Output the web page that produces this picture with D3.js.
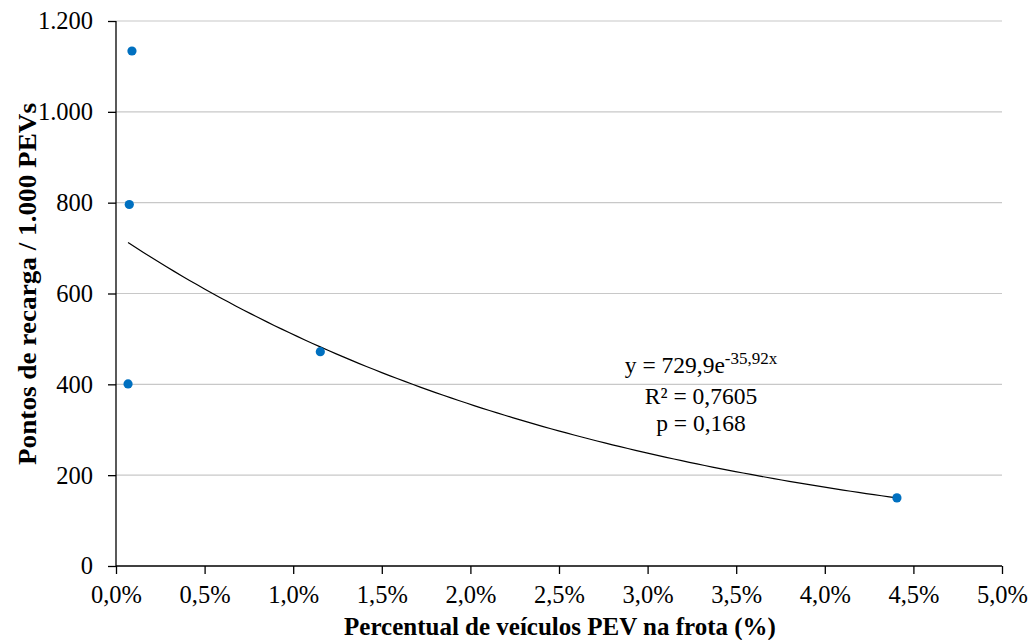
<!DOCTYPE html>
<html>
<head>
<meta charset="utf-8">
<script src="https://cdn.jsdelivr.net/npm/d3@7.9.0/dist/d3.min.js"></script>
<style>
  body { margin: 0; background: #fff; }
  svg { display: block; font-family: "Liberation Serif", "Times New Roman", serif; }
</style>
</head>
<body>
<svg id="chart" width="1032" height="640"></svg>
<script>
// share of PEV in fleet (fraction) and charging points per 1.000 PEVs
const xValues = [0.0009, 0.00075, 0.00068, 0.01153, 0.04407];
const yValues = [1134, 796, 401, 472, 150];
const xTicks = [0, 0.005, 0.01, 0.015, 0.02, 0.025, 0.03, 0.035, 0.04, 0.045, 0.05];
const yTicks = [0, 200, 400, 600, 800, 1000, 1200];
const fitA = 729.9, fitB = -35.92;
const fitLabels = ["R² = 0,7605", "p = 0,168"];

const svg = d3.select('#chart');
const margin = { left: 116, right: 30, top: 21, bottom: 74 };

let x = d3.scaleLinear().domain([0, 0.05]).range([margin.left, 1002]);
let y = d3.scaleLinear().domain([0, 1200]).range([566, margin.top]);

const fmtPct = v => d3.format('.1f')(v * 100).replace('.', ',') + '%';
const fmtNum = v => d3.format(',')(v).replace(/,/g, '.');

// gridlines
svg.append('g')
    .selectAll('line')
    .data(yTicks.filter(d => d > 0))
    .join('line')
    .attr('x1', x(0)).attr('x2', x(0.05))
    .attr('y1', d => y(d)).attr('y2', d => y(d))
    .attr('stroke', '#c8c8c8').attr('stroke-width', 1.2);

// axes
let yAxis = svg.append('g')
    .attr('transform', `translate(${x(0)},0)`)
    .call(d3.axisLeft(y).tickValues(yTicks).tickSize(8).tickPadding(15).tickFormat(fmtNum));
let xAxis = svg.append('g')
    .attr('transform', `translate(0,${y(0)})`)
    .call(d3.axisBottom(x).tickValues(xTicks).tickSize(8).tickPadding(12).tickFormat(fmtPct));

[yAxis, xAxis].forEach(ax => {
    ax.select('.domain').attr('stroke', '#000').attr('stroke-width', 1.3);
    ax.selectAll('.tick line').attr('stroke', '#000').attr('stroke-width', 1.3);
    ax.selectAll('.tick text')
        .attr('fill', '#000')
        .style('font-family', '"Liberation Serif", serif')
        .style('font-size', '24.5px');
});
xAxis.select('.domain').attr('d', `M${x(0)},0H${x(0.05)}`);
yAxis.select('.domain').attr('d', `M0,${y(0)}V${y(1200)}`);

// exponential trend line
let xMin = d3.min(xValues), xMax = d3.max(xValues);
let fitPts = d3.range(0, 101).map(i => {
    let xv = xMin + (xMax - xMin) * i / 100;
    return [xv, fitA * Math.exp(fitB * xv)];
});
svg.append('path')
    .datum(fitPts)
    .attr('fill', 'none')
    .attr('stroke', '#000')
    .attr('stroke-width', 1.2)
    .attr('d', d3.line().x(d => x(d[0])).y(d => y(d[1])));

// points
svg.append('g')
    .selectAll('circle')
    .data(xValues.map((v, i) => [v, yValues[i]]))
    .join('circle')
    .attr('cx', d => x(d[0]))
    .attr('cy', d => y(d[1]))
    .attr('r', 4.6)
    .attr('fill', '#0070c0');

// equation
let eq = svg.append('text')
    .attr('x', 701).attr('y', 373)
    .attr('text-anchor', 'middle')
    .style('font-size', '23.5px');
eq.append('tspan').text('y = 729,9e');
eq.append('tspan').attr('dy', -9).style('font-size', '17px').text('-35,92x');

svg.selectAll('.fitlbl')
    .data(fitLabels)
    .join('text')
    .attr('class', 'fitlbl')
    .attr('x', 701)
    .attr('y', (d, i) => 404 + i * 27)
    .attr('text-anchor', 'middle')
    .style('font-size', '23.5px')
    .text(d => d);

// axis titles
svg.append('text')
    .attr('x', 560).attr('y', 635)
    .attr('text-anchor', 'middle')
    .style('font-size', '25px').style('font-weight', 'bold')
    .text('Percentual de veículos PEV na frota (%)');

svg.append('text')
    .attr('transform', 'translate(36,284) rotate(-90)')
    .attr('text-anchor', 'middle')
    .style('font-size', '25px').style('font-weight', 'bold')
    .attr('textLength', 362).attr('lengthAdjust', 'spacingAndGlyphs')
    .text('Pontos de recarga / 1.000 PEVs');
</script>
</body>
</html>
